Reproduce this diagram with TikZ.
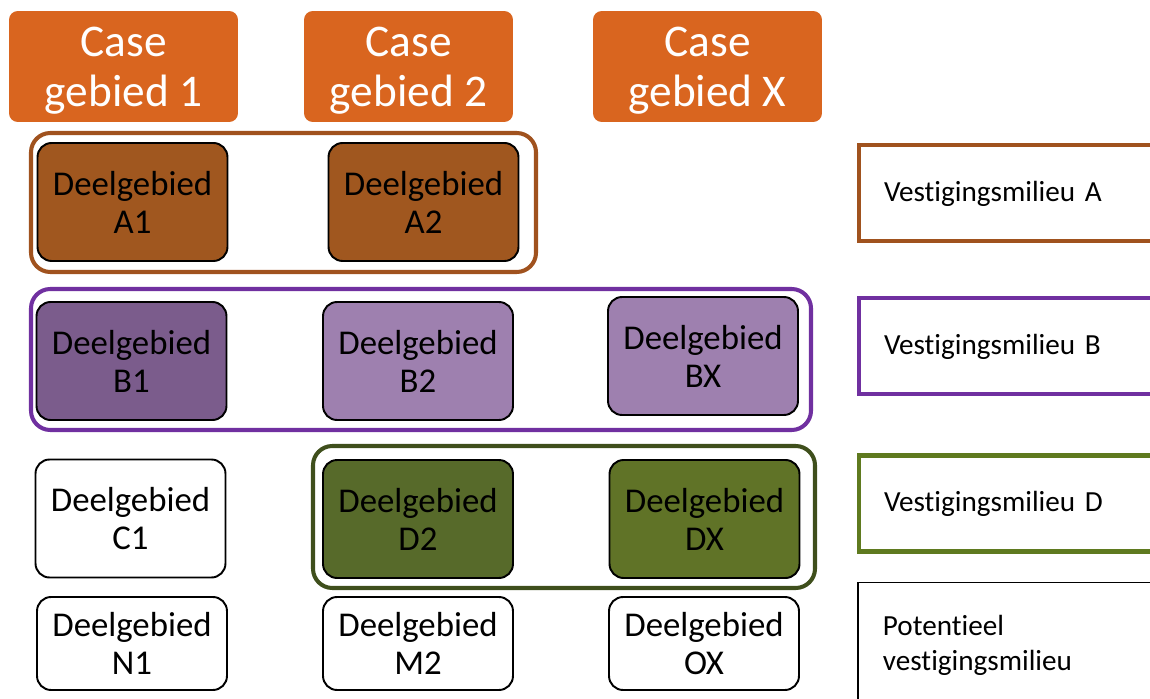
\documentclass[tikz,border=0pt]{standalone}
\usepackage{fontspec}
\setmainfont[Ligatures=NoCommon]{Carlito}
\usetikzlibrary{positioning}
\definecolor{caseorange}{HTML}{D9651F}
\definecolor{milieubrown}{HTML}{A0521E}
\definecolor{fillbrown}{HTML}{A0571F}
\definecolor{milieupurple}{HTML}{7030A0}
\definecolor{filldarkpurple}{HTML}{7B5C8C}
\definecolor{filllightpurple}{HTML}{9E80AF}
\definecolor{framegreen}{HTML}{3F4F1C}
\definecolor{milieugreen}{HTML}{5F7A1F}
\definecolor{filldarkgreen}{HTML}{576A2A}
\definecolor{filllightgreen}{HTML}{607327}

\begin{document}
\begin{tikzpicture}[
		x=0.02cm, y=-0.02cm,
		every node/.style={font=\fontsize{19.8}{21.6}\selectfont},
		casebox/.style={
			fill=caseorange,
			rounded corners=5pt,
			minimum height=2.22cm
		},
		casetext/.style={
			text=white,
			align=center,
			font=\fontsize{25.8}{28.5}\selectfont
		},
		deel/.style={
			draw=black,
			line width=1.1pt,
			rounded corners=8pt,
			fill=white,
			align=center,
			minimum width=3.8cm,
			minimum height=2.36cm,
			inner sep=0pt
		},
		deelsmall/.style={deel, minimum height=1.86cm},
		groupframe/.style={
			line width=2.3pt,
			rounded corners=11pt
		},
		legend/.style={
			anchor=west,
			line width=2.3pt,
			align=left,
			text width=5.26cm,
			inner xsep=0.5cm,
			minimum height=1.92cm,
			text depth=2pt,
			font=\fontsize{16.6}{19.9}\selectfont
		}
	]
		\useasboundingbox (0,0) rectangle (1150,699);
		\clip (0,0) rectangle (1150,699);

		% kolomkoppen
		\node[casebox, minimum width=4.58cm] (case1) at (123.5,66.5) {};
		\node[casebox, minimum width=4.18cm] (case2) at (408.5,66.5) {};
		\node[casebox, minimum width=4.58cm] (caseX) at (707.5,66.5) {};
		\node[casetext] (case1-text) at ([yshift=-0.08cm]case1.center) {Case\\gebied 1};
		\node[casetext] (case2-text) at ([yshift=-0.08cm]case2.center) {Case\\gebied 2};
		\node[casetext] (caseX-text) at ([yshift=-0.08cm]caseX.center) {Case\\gebied X};

		% kaders per vestigingsmilieu
		\draw[groupframe, draw=milieubrown] (31,133) rectangle (536,272);
		\draw[groupframe, draw=milieupurple] (31,289) rectangle (811,430);
		\draw[groupframe, draw=framegreen] (313,446) rectangle (815,588);

		\node[deel, fill=fillbrown] (A1) at (132.5,202) {Deelgebied\\A1};
		\node[deel, fill=fillbrown] (A2) at (423.5,202) {Deelgebied\\A2};

		\node[deel, fill=filldarkpurple] (B1) at (131.5,361) {Deelgebied\\B1};
		\node[deel, fill=filllightpurple] (B2) at (418,361) {Deelgebied\\B2};
		\node[deel, fill=filllightpurple] (BX) at (703,356) {Deelgebied\\BX};

		\node[deel] (C1) at (130.5,518.5) {Deelgebied\\C1};
		\node[deel, fill=filldarkgreen] (D2) at (418,519) {Deelgebied\\D2};
		\node[deel, fill=filllightgreen] (DX) at (704.5,519) {Deelgebied\\DX};

		\node[deelsmall] (N1) at (132,643.5) {Deelgebied\\N1};
		\node[deelsmall] (M2) at (418,643.5) {Deelgebied\\M2};
		\node[deelsmall] (OX) at (704,643.5) {Deelgebied\\OX};

		% legenda
		\node[legend, draw=milieubrown] (legA) at (857,193) {Vestigingsmilieu A};
		\node[legend, draw=milieupurple] (legB) at (857,346) {Vestigingsmilieu B};
		\node[legend, draw=milieugreen] (legD) at (857,503.5) {Vestigingsmilieu D};
		\node[legend, draw=black, line width=1.1pt, text depth=, minimum height=2.5cm] (legP) at (857,645)
			{Potentieel\\vestigingsmilieu};
	\end{tikzpicture}
\end{document}
